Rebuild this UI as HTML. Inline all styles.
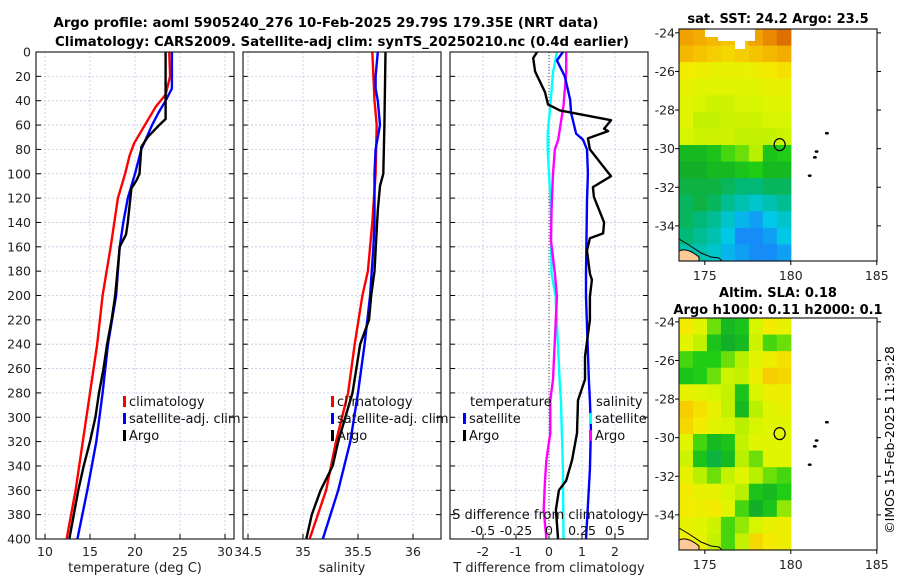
<!DOCTYPE html>
<html><head><meta charset="utf-8"><style>
html,body{margin:0;padding:0;background:#fff;}
svg{display:block;font-family:"DejaVu Sans","Liberation Sans",sans-serif;}
</style></head><body>
<svg id="fig" width="900" height="580" viewBox="0 0 900 580" xmlns="http://www.w3.org/2000/svg">
<text x="326" y="27" text-anchor="middle" font-size="13" font-weight="bold" textLength="545" lengthAdjust="spacingAndGlyphs">Argo profile: aoml 5905240_276 10-Feb-2025 29.79S 179.35E (NRT data)</text>
<text x="342" y="46" text-anchor="middle" font-size="13" font-weight="bold" textLength="574" lengthAdjust="spacingAndGlyphs">Climatology: CARS2009. Satellite-adj clim: synTS_20250210.nc (0.4d earlier)</text>
<g id="g1"></g>
<g id="g2"></g>
<g id="g3"></g>
<g id="m1"></g>
<g id="m2"></g>
<text x="778" y="23" text-anchor="middle" font-size="13" font-weight="bold">sat. SST: 24.2 Argo: 23.5</text>
<text x="778" y="297" text-anchor="middle" font-size="13" font-weight="bold">Altim. SLA: 0.18</text>
<text x="778" y="314" text-anchor="middle" font-size="13" font-weight="bold">Argo h1000: 0.11 h2000: 0.1</text>
<text transform="translate(894,440) rotate(-90)" text-anchor="middle" font-size="12.5">©IMOS 15-Feb-2025 11:39:28</text>
</svg>
<script>
// ---- profile data (depth in m) ----
const depthTicks = [0,20,40,60,80,100,120,140,160,180,200,220,240,260,280,300,320,340,360,380,400];
const tArgoDepth = [0,55,60,70,78,100,105,112,140,150,160,200,220,240,260,280,300,320,340,360,380,400];
const tArgo      = [23.4,23.4,22.7,21.4,20.7,20.5,20.2,19.6,19.2,19.0,18.3,17.8,17.4,16.9,16.5,16.0,15.6,15.0,14.3,13.7,13.2,12.7];
const tClimDepth = [0,20,35,45,60,75,85,100,120,140,160,200,240,280,320,360,400];
const tClim      = [23.8,23.9,23.4,22.3,21.1,19.9,19.4,18.9,18.1,17.7,17.3,16.4,15.8,15.0,14.2,13.4,12.4];
const tSatDepth  = [0,20,30,40,50,60,70,80,100,120,140,160,200,240,280,320,360,400];
const tSat       = [24.1,24.1,24.1,23.4,22.6,21.9,21.3,20.7,20.0,19.2,18.7,18.3,17.9,17.0,16.4,15.7,14.7,13.6];
const tTicks = [10,15,20,25,30];

const sArgoDepth = [0,60,100,110,130,180,200,220,240,280,320,340,360,380,400];
const sArgo      = [35.75,35.74,35.73,35.70,35.68,35.65,35.62,35.60,35.52,35.45,35.32,35.27,35.16,35.08,35.03];
const sClimDepth = [0,20,40,60,100,140,180,200,240,280,320,360,400];
const sClim      = [35.63,35.64,35.65,35.67,35.66,35.63,35.59,35.54,35.47,35.41,35.30,35.21,35.06];
const sSatDepth  = [0,20,30,40,60,80,100,140,160,200,240,280,320,360,400];
const sSat       = [35.68,35.66,35.66,35.68,35.70,35.66,35.65,35.65,35.64,35.61,35.56,35.50,35.43,35.32,35.18];
const sTicks = [34.5,35,35.5,36];

const dTSatDepth = [0,7,20,39,50,67,72,80,100,122,182,201,270,286,310,343,386,400];
const dTSat      = [0.42,0.24,0.48,0.64,0.67,0.82,1.03,1.15,1.18,1.15,1.12,1.12,1.21,1.24,1.27,1.24,1.15,1.12];
const dTArgoDepth= [0,5,16,33,43,48,56,63,65,71,80,102,111,119,140,149,153,163,182,187,201,220,250,269,286,313,335,352,360,376,398,400];
const dTArgo     = [-0.36,-0.48,-0.42,-0.12,-0.03,0.33,1.88,1.67,1.79,1.18,1.24,1.88,1.33,1.36,1.67,1.64,1.24,1.15,1.24,1.30,1.24,1.24,1.09,1.09,0.88,0.85,0.70,0.52,0.30,0.21,0.27,0.27];
const dSSatDepth = [0,17,44,67,80,100,128,155,182,201,269,286,343,400];
const dSSat      = [0.06,0.03,0.01,-0.01,-0.01,0.0,0.015,0.015,0.02,0.05,0.08,0.09,0.105,0.11];
const dSArgoDepth= [0,17,44,72,80,100,128,155,182,201,269,286,313,335,352,376,400];
const dSArgo     = [0.13,0.13,0.11,0.07,0.045,0.03,0.02,0.015,0.045,0.06,0.03,0.01,0.01,-0.02,-0.03,-0.04,-0.02];
const dTTicks = [-2,-1,0,1,2];
const dSTicks = [-0.5,-0.25,0,0.25,0.5];
const dSTickLabels = ["-0.5","-0.25","0","0.25","0.5"];

// ---- map data (8 cols x 14 rows, lon 173.5..180, lat -23.8..-35.8) ----
const sstGrid = [
[25.9,25.8,25.7,25.6,25.6,25.9,26.1,26.3],
[25.7,25.6,25.5,25.4,25.5,25.6,25.7,25.8],
[25.2,25.1,25.0,25.0,25.0,25.1,25.2,25.3],
[25.0,24.9,24.9,24.9,24.9,24.9,25.0,25.0],
[24.9,24.8,24.7,24.7,24.8,24.8,24.9,24.9],
[24.9,24.6,24.6,24.7,24.7,24.7,24.8,24.8],
[24.8,24.7,24.7,24.7,24.6,24.6,24.6,24.7],
[23.9,23.9,24.0,24.2,24.3,24.5,24.0,24.1],
[23.8,23.8,23.9,23.9,24.0,24.1,23.9,23.9],
[23.7,23.7,23.7,23.6,23.5,23.5,23.6,23.6],
[23.6,23.7,23.6,23.4,23.3,23.2,23.3,23.4],
[23.6,23.5,23.4,23.2,23.0,22.9,23.1,23.2],
[23.5,23.4,23.3,23.1,22.8,22.8,22.9,23.1],
[23.3,23.3,23.2,23.0,22.9,22.8,22.8,22.9]];
const slaGrid = [
[25.2,24.9,24.3,23.9,24.0,24.8,25.2,25.0],
[24.9,24.6,24.0,23.8,23.9,24.7,24.2,24.3],
[24.2,24.1,24.1,24.3,24.5,24.9,25.1,25.3],
[24.0,24.1,24.3,24.7,24.6,25.1,25.5,25.4],
[25.0,24.9,24.8,24.6,24.0,24.8,25.1,25.1],
[25.5,25.3,25.0,24.6,23.9,24.5,24.9,25.0],
[25.4,25.2,24.9,24.8,24.5,24.8,24.9,24.9],
[24.9,24.2,23.9,24.0,24.6,24.9,24.9,24.9],
[24.7,24.0,23.7,23.9,24.5,24.3,24.9,24.9],
[25.0,24.5,24.3,24.6,24.9,24.5,24.3,24.2],
[25.2,25.0,25.0,24.8,24.5,24.0,23.9,24.1],
[25.2,25.1,25.2,24.9,24.2,23.8,24.0,24.4],
[25.0,24.9,24.7,24.2,24.4,24.8,25.0,25.1],
[25.1,25.0,24.6,24.2,24.6,25.4,25.2,25.1]];
const latTicks = [-24,-26,-28,-30,-32,-34];
const lonTicks = [175,180,185];
const argoLon = 179.35, argoLat = -29.79;

const NS="http://www.w3.org/2000/svg";
function mk(parent,tag,attrs,txt){const e=document.createElementNS(NS,tag);for(const k in attrs)e.setAttribute(k,attrs[k]);if(txt!==undefined)e.textContent=txt;parent.appendChild(e);return e;}
const Y0=52,Y1=539;
const yD=d=>Y0+(d/400)*(Y1-Y0);

function panel(g,x0,x1,xs,xTicks,xLabels,showY,xlabel){
  mk(g,'rect',{x:x0,y:Y0,width:x1-x0,height:Y1-Y0,fill:'#fff'});
  depthTicks.forEach(d=>{
    const l=mk(g,'line',{x1:x0,x2:x1,y1:yD(d),y2:yD(d),stroke:'#c4c8e4','stroke-width':0.8,'stroke-dasharray':'2,2'});
    
    
    mk(g,'line',{x1:x0,x2:x0+5,y1:yD(d),y2:yD(d),stroke:'#000'});
    mk(g,'line',{x1:x1-5,x2:x1,y1:yD(d),y2:yD(d),stroke:'#000'});
    if(showY){const t=mk(g,'text',{x:x0-5,y:yD(d)+4.5,'text-anchor':'end','font-size':12.5,fill:'#222'},String(d));
      
      }
  });
  xTicks.forEach((v,i)=>{
    const l=mk(g,'line',{x1:xs(v),x2:xs(v),y1:Y0,y2:Y1,stroke:'#c4c8e4','stroke-width':0.8,'stroke-dasharray':'2,2'});
    
    
    mk(g,'line',{x1:xs(v),x2:xs(v),y1:Y1,y2:Y1-5,stroke:'#000'});
    const t=mk(g,'text',{x:xs(v),y:Y1+17,'text-anchor':'middle','font-size':12.5,fill:'#222'},xLabels[i]);
    
    
  });
  const xl=mk(g,'text',{x:(x0+x1)/2,y:572,'text-anchor':'middle','font-size':13,fill:'#222'},xlabel);
  
  
}
function frame(g,x0,x1){mk(g,'rect',{x:x0,y:Y0,width:x1-x0,height:Y1-Y0,fill:'none',stroke:'#222','stroke-width':1.2});}
function line(g,xs,vals,deps,color,name){
  const pts=vals.map((v,i)=>xs(v).toFixed(1)+','+yD(deps[i]).toFixed(1)).join(' ');
  const p=mk(g,'polyline',{points:pts,fill:'none',stroke:color,'stroke-width':2.4,'stroke-linejoin':'round'});
  
  
}
function legend(g,x,y,items){
  items.forEach((it,i)=>{
    mk(g,'rect',{x:x,y:y+i*17-10,width:3,height:11,fill:it[1]});
    const t=mk(g,'text',{x:x+6,y:y+i*17,'font-size':13,fill:'#111'},it[0]);
    
    
  });
}
// Panel 1
const g1=document.getElementById('g1'),xT=v=>45+9*(v-10);
panel(g1,36,234,xT,tTicks,tTicks.map(String),true,'temperature (deg C)');
line(g1,xT,tClim,tClimDepth,'#f00','temp-climatology-line');
line(g1,xT,tSat,tSatDepth,'#00f','temp-satellite-line');
line(g1,xT,tArgo,tArgoDepth,'#000','temp-argo-line');
legend(g1,123,406,[['climatology','#f00'],['satellite-adj. clim','#00f'],['Argo','#000']]);
frame(g1,36,234);
// Panel 2
const g2=document.getElementById('g2'),xS=v=>303+110*(v-35);
panel(g2,243,441,xS,sTicks,sTicks.map(String),false,'salinity');
line(g2,xS,sClim,sClimDepth,'#f00','sal-climatology-line');
line(g2,xS,sSat,sSatDepth,'#00f','sal-satellite-line');
line(g2,xS,sArgo,sArgoDepth,'#000','sal-argo-line');
legend(g2,331,406,[['climatology','#f00'],['satellite-adj. clim','#00f'],['Argo','#000']]);
frame(g2,243,441);
// Panel 3
const g3=document.getElementById('g3'),xdT=v=>549+33*v,xdS=v=>549+132*v;
panel(g3,450,648,xdT,dTTicks,dTTicks.map(String),false,'T difference from climatology');
mk(g3,'line',{x1:549,x2:549,y1:Y0,y2:Y1,stroke:'#444','stroke-width':1,'stroke-dasharray':'1,2'});
line(g3,xdS,dSSat,dSSatDepth,'#0ff','sdiff-satellite-line');
line(g3,xdS,dSArgo,dSArgoDepth,'#f0f','sdiff-argo-line');
line(g3,xdT,dTSat,dTSatDepth,'#00f','tdiff-satellite-line');
line(g3,xdT,dTArgo,dTArgoDepth,'#000','tdiff-argo-line');
mk(g3,'text',{x:470,y:406,'font-size':13,fill:'#111'},'temperature');
legend(g3,463,423,[['satellite','#00f'],['Argo','#000']]);
mk(g3,'text',{x:596,y:406,'font-size':13,fill:'#111'},'salinity');
legend(g3,589,423,[['satellite','#0ff'],['Argo','#f0f']]);
const st=mk(g3,'text',{x:548,y:519,'text-anchor':'middle','font-size':13,fill:'#111'},'S difference from climatology');


dSTicks.forEach((v,i)=>{const t=mk(g3,'text',{x:xdS(v),y:535,'text-anchor':'middle','font-size':12.5,fill:'#111'},dSTickLabels[i]);
  
  });
frame(g3,450,648);

// Maps
const stops=[[22.7,[30,120,255]],[23.1,[0,200,230]],[23.5,[0,185,120]],[23.8,[20,175,40]],[24.1,[30,205,20]],[24.5,[185,240,0]],[24.9,[225,245,0]],[25.2,[245,235,0]],[25.6,[245,195,0]],[26.0,[240,150,0]],[26.4,[215,100,0]]];
function cmap(v){if(v<=stops[0][0])return 'rgb('+stops[0][1]+')';
  for(let i=1;i<stops.length;i++){if(v<=stops[i][0]){const a=stops[i-1],b=stops[i],f=(v-a[0])/(b[0]-a[0]);
    return 'rgb('+a[1].map((c,k)=>Math.round(c+f*(b[1][k]-c))).join(',')+')';}}
  return 'rgb('+stops[stops.length-1][1]+')';}
function map(g,top,grid,gap){
  const L=679,R=877,B=top+232,lon0=173.5,lat0=-23.8,pxLon=17.2,pxLat=19.3;
  const xm=lo=>L+(lo-lon0)*pxLon, ym=la=>top+(lat0-la)*pxLat;
  const dataR=xm(180), dataB=B;
  const nr=grid.length,nc=grid[0].length,cw=(dataR-L)/nc,ch=(dataB-top)/nr;
  grid.forEach((row,r)=>row.forEach((v,c)=>{
    const cell=mk(g,'rect',{x:L+c*cw,y:top+r*ch,width:cw+0.6,height:ch+0.6,fill:cmap(v)});
    
    
  }));
  if(gap){mk(g,'path',{d:`M705 ${top} L755 ${top} L755 ${top+12} L745 ${top+12} L745 ${top+20} L735 ${top+20} L735 ${top+12} L718 ${top+12} L718 ${top+8} L705 ${top+8} Z`,fill:'#fff'});}
  // coast
  mk(g,'path',{d:`M${L} ${B-10} Q${L+8} ${B-14} ${L+20} ${B-4} L${L+20} ${B} L${L} ${B} Z`,fill:'#fbc896',stroke:'#000','stroke-width':1});
  mk(g,'path',{d:`M${L} ${B-22} L${L+10} ${B-16} L${L+22} ${B-8} L${L+32} ${B-4} L${L+40} ${B-3} L${L+43} ${B}`,fill:'none',stroke:'#000','stroke-width':1});
  [[182.1,-29.2],[181.5,-30.15],[181.4,-30.45],[181.1,-31.4]].forEach(p=>mk(g,'ellipse',{cx:xm(p[0]),cy:ym(p[1]),rx:2,ry:1.3,fill:'#000'}));
  const c=mk(g,'ellipse',{cx:xm(argoLon),cy:ym(argoLat),rx:5.5,ry:6,fill:'none',stroke:'#000','stroke-width':1.2});
  
  
  mk(g,'rect',{x:L,y:top,width:R-L,height:B-top,fill:'none',stroke:'#222','stroke-width':1.2});
  latTicks.forEach(la=>{const y=ym(la);
    mk(g,'line',{x1:L-4,x2:L,y1:y,y2:y,stroke:'#000'});mk(g,'line',{x1:R,x2:R+4,y1:y,y2:y,stroke:'#000'});
    const t=mk(g,'text',{x:L-4,y:y+4.5,'text-anchor':'end','font-size':12.5,fill:'#222'},String(la));
    
    });
  lonTicks.forEach(lo=>{const x=xm(lo);
    mk(g,'line',{x1:x,x2:x,y1:B,y2:B+4,stroke:'#000'});
    const t=mk(g,'text',{x:x,y:B+19,'text-anchor':'middle','font-size':12.5,fill:'#222'},String(lo));
    
    });
}
map(document.getElementById('m1'),29,sstGrid,true);
map(document.getElementById('m2'),318,slaGrid,false);
</script>
</body></html>
